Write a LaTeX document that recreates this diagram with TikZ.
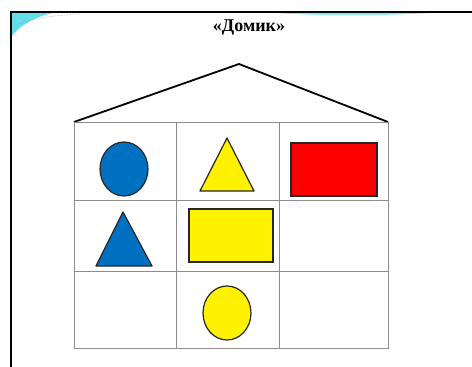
\documentclass[tikz,border=0pt]{standalone}
\usepackage{fontspec}
\setmainfont{Liberation Serif}
\begin{document}
\begin{tikzpicture}[x=1pt,y=-1pt,
  gridline/.style={draw=black!45, line width=0.9pt},
  roofline/.style={draw=black, line width=1.8pt, line join=round},
  shapeline/.style={draw=black!85, line width=1.2pt},
  frameline/.style={draw=black, line width=2pt}]
\definecolor{swoosh}{RGB}{100,222,235}
\definecolor{blueshape}{RGB}{0,112,192}
\useasboundingbox (0,0) rectangle (472,367);
\fill[white] (0,0) rectangle (472,367);
% decorative swooshes
\fill[swoosh] (11,13) -- (52,13) .. controls (32,18) and (18,27) .. (11,37) -- cycle;
\draw[black!40, densely dotted, line width=0.5pt] (16,25) .. controls (30,19) and (55,15) .. (80,14);
\fill[swoosh!70] (275,13) .. controls (320,16) and (380,16) .. (430,13) -- cycle;
% frame
\draw[frameline] (11,367) -- (11,12) -- (472,12);
% title
\node[font=\fontsize{18}{20}\selectfont\bfseries] (title) at (249,28) {«Домик»};
% roof
\coordinate (apex) at (239,64);
\coordinate (gl) at (74,122);
\coordinate (gr) at (388,122);
\draw[roofline] (gl) -- (apex) -- (gr);
% grid
\draw[gridline] (74,122) rectangle (388,348);
\draw[gridline] (74,200) -- (388,200);
\draw[gridline] (74,271) -- (388,271);
\draw[gridline] (176,122) -- (176,348);
\draw[gridline] (279,122) -- (279,348);
% shapes
\draw[shapeline, fill=blueshape] (124,169) ellipse [x radius=24, y radius=27];
\draw[shapeline, fill=yellow, line join=round] (227,138) -- (254,191) -- (200,191) -- cycle;
\draw[shapeline, fill=red] (291,143) rectangle (377,196);
\draw[shapeline, fill=blueshape, line join=round] (123,212) -- (152,266) -- (96,266) -- cycle;
\draw[shapeline, fill=yellow] (189,209) rectangle (273,262);
\draw[shapeline, fill=yellow] (227,313) ellipse [x radius=24, y radius=27];
\end{tikzpicture}
\end{document}
